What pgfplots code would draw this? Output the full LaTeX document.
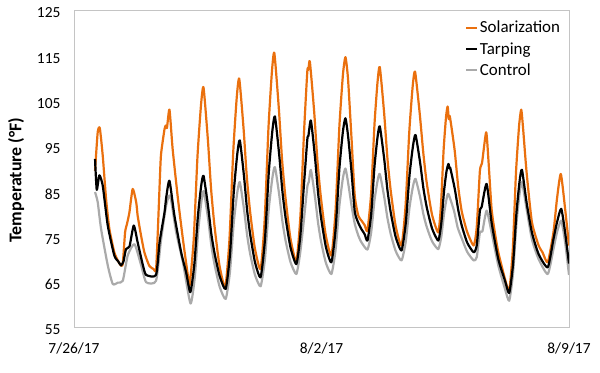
\documentclass[border=0pt]{standalone}
\usepackage{fontspec}
\setmainfont{Carlito}
\usepackage{pgfplots}
\pgfplotsset{compat=1.18}
\definecolor{sol}{RGB}{234,112,14}
\definecolor{ctl}{RGB}{170,170,170}
\definecolor{frame}{RGB}{196,196,196}
\begin{document}
\begin{tikzpicture}
\path[use as bounding box] (0,0) rectangle (600bp,373bp);
\begin{axis}[
  at={(74bp,46bp)}, anchor=south west,
  scale only axis, width=495bp, height=317bp,
  xmin=0, xmax=14, ymin=55, ymax=125,
  xtick={0,7,14}, xticklabels={7/26/17,8/2/17,8/9/17},
  ytick={55,65,...,125},
  major tick length=0pt,
  axis line style={draw=frame, line width=0.8bp},
  /pgf/number format/assume math mode=true,
  ticklabel style={font=\fontsize{15.5}{18}\selectfont},
  yticklabel style={xshift=-10bp, yshift=-3bp},
  xticklabel style={yshift=-12bp},
  ylabel={\textbf{Temperature (°F)}},
  ylabel style={font=\fontsize{18}{21}\selectfont, at={(axis description cs:-0.117,0.464)}, anchor=center},
  legend style={at={(axis description cs:0.79,0.97)}, anchor=north west, draw=none, fill=none,
    font=\fontsize{17}{20}\selectfont, inner sep=0pt, nodes={inner sep=1.5bp}, row sep=5bp},
  legend cell align=left,
  legend image code/.code={\draw[#1, line width=2.2bp] (0bp,0bp) -- (11bp,0bp);},
  every axis plot/.append style={line width=2.2bp, line join=round, smooth, tension=0.35},
  clip=true,
]
\addplot[sol, forget plot] coordinates {
(0.595,89.5) (0.67,98) (0.73,98.9) (0.813,92.8) (0.907,83.3) (1.0,76.7) (1.14,71.5) (1.25,69.5) (1.33,68.6) (1.38,69)
(1.445,75.9) (1.50,77.8) (1.567,80.3) (1.66,85.5) (1.76,82.5) (1.80,79.6) (1.88,75.9) (1.99,71.5) (2.13,68.5) (2.25,67.8) (2.32,67.6)
(2.37,76) (2.42,86) (2.46,93) (2.56,98.7) (2.60,99.5) (2.63,99) (2.70,103) (2.79,94.3) (2.94,83.3) (3.08,74.4) (3.22,66.4) (3.27,64.2)
(3.385,74.2) (3.492,92.6) (3.592,104.0) (3.663,107.9) (3.786,96.4) (3.878,85.4) (3.971,77.5) (4.112,68.7) (4.278,63.8)
(4.397,74.4) (4.504,93.7) (4.603,105.7) (4.674,109.8) (4.795,98.9) (4.885,88.4) (4.976,80.8) (5.115,72.4) (5.278,67.8)
(5.394,78.8) (5.499,98.8) (5.596,111.2) (5.666,115.5) (5.791,103.5) (5.884,92.0) (5.978,83.8) (6.121,74.6) (6.289,69.5)
(6.404,79.6) (6.507,98.2) (6.60,111.6) (6.63,111.8) (6.671,113.6) (6.793,102.5) (6.884,91.8) (6.976,84.1) (7.115,75.5) (7.28,70.8)
(7.399,80.9) (7.506,99.3) (7.606,110.7) (7.677,114.6) (7.75,109.8) (7.85,96.5) (7.94,84) (8.04,79.6) (8.13,78.5) (8.22,77.5) (8.30,76.3)
(8.405,84.6) (8.499,99.8) (8.586,109.2) (8.649,112.4) (8.772,102.2) (8.864,92.3) (8.956,85.2) (9.097,77.3) (9.263,73)
(9.378,81.8) (9.482,98) (9.577,108) (9.646,111.4) (9.777,102.2) (9.881,93.3) (9.975,86.9) (10.126,79.8) (10.303,75.9)
(10.382,82.3) (10.453,94) (10.52,101.2) (10.567,103.7) (10.60,100.9) (10.63,101.5) (10.765,94.1) (10.866,86) (10.967,80.5) (11.12,76) (11.303,73)
(11.39,77) (11.48,89.5) (11.54,91.2) (11.657,98) (11.72,92) (11.81,81.1) (11.9,76) (12.0,71.5) (12.19,65.6) (12.309,63)
(12.411,72.2) (12.5,89) (12.588,99.4) (12.649,103) (12.70,99) (12.80,89.2) (12.95,78.2) (13.14,73) (13.25,71.5) (13.399,69.3)
(13.56,75.9) (13.66,83.3) (13.768,88.8) (13.89,81.1) (14.0,73)
};
\addplot[ctl, forget plot] coordinates {
(0.595,84.8) (0.67,82.6) (0.765,76.7) (0.955,68.6) (1.096,64.5) (1.24,64.8) (1.38,65.2) (1.52,70.8) (1.71,73.3) (1.90,68.6) (2.04,64.9) (2.32,65.2)
(2.465,74.4) (2.606,81.8) (2.72,84) (2.89,75.9) (3.08,69.3) (3.295,60.2)
(3.418,66.1) (3.515,76.4) (3.605,82.8) (3.67,85) (3.794,78.8) (3.886,72.9) (3.98,68.6) (4.123,63.8) (4.29,61.2)
(4.41,67.1) (4.518,78) (4.618,84.7) (4.69,87) (4.808,81) (4.896,75.3) (4.984,71.1) (5.119,66.5) (5.278,64)
(5.40,70) (5.509,81.1) (5.61,87.9) (5.683,90.3) (5.804,84.2) (5.895,78.3) (5.986,74) (6.125,69.3) (6.289,66.7)
(6.40,71.5) (6.50,78.5) (6.60,86) (6.64,87) (6.70,89.7) (6.816,83.7) (6.903,78) (6.99,73.8) (7.123,69.2) (7.28,66.7)
(7.399,72.1) (7.506,81.8) (7.606,87.9) (7.677,90) (7.75,87) (7.85,81.8) (7.94,77.8) (8.04,75.2) (8.13,73.7) (8.30,72.1)
(8.405,75.9) (8.499,83) (8.586,87.3) (8.649,88.8) (8.772,83.8) (8.864,79.1) (8.956,75.6) (9.097,71.8) (9.263,69.7)
(9.382,73.8) (9.489,81.4) (9.588,86.1) (9.66,87.7) (9.789,83.7) (9.885,79.8) (9.98,77) (10.129,73.9) (10.303,72.2)
(10.389,75) (10.467,80.1) (10.538,83.3) (10.59,84.4) (10.75,80.6) (10.85,77) (10.97,74.5) (11.12,71.6) (11.303,69.7)
(11.39,70.4) (11.48,75.9) (11.55,76.1) (11.67,80.7) (11.81,75.9) (12.0,68.6) (12.19,63.4) (12.309,60.8)
(12.417,66.8) (12.514,77.8) (12.604,84.6) (12.67,87) (12.80,81.1) (12.95,74.4) (13.14,70) (13.399,66.7)
(13.56,72.2) (13.66,75.9) (13.78,78.5) (13.89,73.7) (14.0,66.5)
};
\addplot[black, forget plot] coordinates {
(0.595,92.1) (0.643,85.3) (0.717,88.5) (0.813,86.2) (0.955,77.4) (1.14,70.8) (1.25,69.5) (1.33,68.6) (1.40,69.5)
(1.47,72.2) (1.57,72.8) (1.69,77.4) (1.80,73.7) (1.95,68.6) (2.04,66.5) (2.32,66.5)
(2.42,73.7) (2.56,80.3) (2.61,83.7) (2.70,87.3) (2.84,79.6) (3.03,71.5) (3.17,67.1) (3.29,62.7)
(3.402,68.7) (3.503,79.4) (3.596,86.1) (3.663,88.4) (3.788,81.9) (3.883,75.6) (3.977,71.2) (4.121,66.2) (4.29,63.4)
(4.41,70.9) (4.518,84.7) (4.618,93.2) (4.69,96.2) (4.808,88.3) (4.896,80.8) (4.984,75.4) (5.119,69.3) (5.278,66)
(5.40,74.2) (5.509,89.1) (5.61,98.3) (5.683,101.5) (5.804,93) (5.895,84.9) (5.986,79) (6.125,72.5) (6.289,68.9)
(6.40,75) (6.50,86) (6.60,96.5) (6.63,97.2) (6.70,100.6) (6.816,92.5) (6.903,84.6) (6.99,79) (7.123,72.7) (7.28,69.3)
(7.399,76.6) (7.506,90) (7.606,98.2) (7.677,101.1) (7.75,97.3) (7.85,89.2) (7.94,80.5) (8.04,78) (8.13,76.6) (8.22,75.5) (8.30,74.1)
(8.405,79.9) (8.499,90.5) (8.586,97) (8.649,99.3) (8.772,92.2) (8.864,85.3) (8.956,80.4) (9.097,74.9) (9.263,71.9)
(9.382,77.8) (9.489,88.5) (9.588,95) (9.66,97.4) (9.789,91.3) (9.885,85.5) (9.98,81.3) (10.129,76.7) (10.303,74.1)
(10.389,78) (10.467,85.1) (10.538,89.5) (10.59,91) (10.62,90) (10.64,90.2) (10.772,85.4) (10.871,80.7) (10.97,77.3) (11.122,73.6) (11.303,71.5)
(11.39,73) (11.48,80.7) (11.53,81.5) (11.67,86.6) (11.81,78.1) (12.0,70) (12.19,65.2) (12.309,62.5)
(12.417,68.8) (12.514,80.2) (12.604,87.3) (12.67,89.7) (12.80,82.5) (12.95,75.9) (13.14,71.1) (13.399,68.2)
(13.56,74.4) (13.66,78.1) (13.78,81.1) (13.89,75.9) (14.0,69)
};
\addlegendimage{sol}\addlegendentry{Solarization}
\addlegendimage{black}\addlegendentry{Tarping}
\addlegendimage{ctl}\addlegendentry{Control}
\end{axis}
\end{tikzpicture}
\end{document}
